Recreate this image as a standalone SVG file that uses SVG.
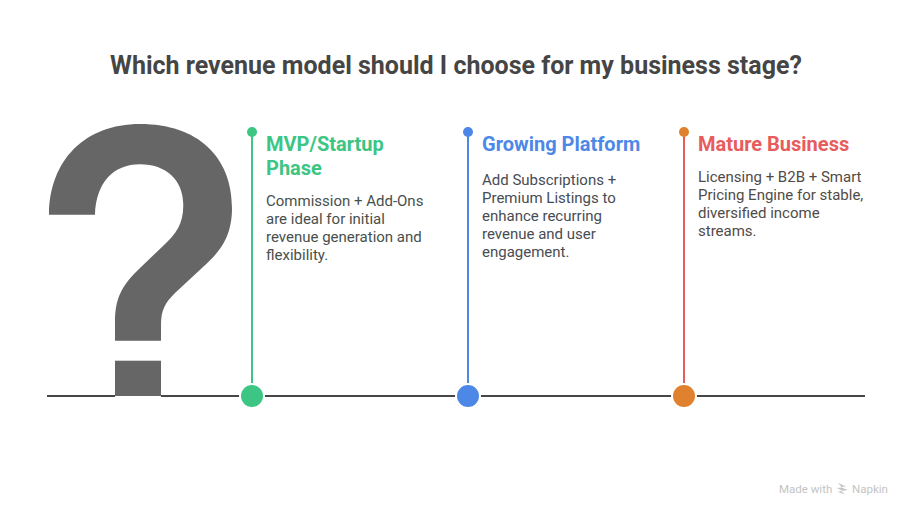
<svg xmlns="http://www.w3.org/2000/svg" width="912" height="516" viewBox="0 0 912 516">
<style>
text{font-family:Roboto,"Liberation Sans",sans-serif}
.title{font-size:25px;font-weight:700;fill:#454545}
.h{font-size:20px;font-weight:700}
.b{font-size:15px}
.stem{stroke-width:2;fill:none}
.base{stroke:#464646;stroke-width:2;fill:none}
.dot{stroke:#fff;stroke-width:2}
.green{fill:#3cc583}.blue{fill:#4e88e7}.red{fill:#e75c5c}.orange{fill:#e0812f}
.bg{fill:#48504c}.bb{fill:#484c54}.bo{fill:#514b47}
</style>
<rect width="912" height="516" fill="#fff"/>
<text id="title" class="title" x="456" y="74" text-anchor="middle">Which revenue model should I choose for my business stage?</text>
<g id="question-mark" fill="#666">
<path d="M49 214.700C49.500 160 85 124 140 124C198 124 232 157 232 208C232 240 217 254 203 267L175 293C165 303 161 310 161 325V340.700H115V322C115 298 122 285 140 268L163 246C176 234 183.300 224 183.300 205C183.300 180 166 164.300 140 164.300C113 164.300 96 183 95 214.700Z"/>
<rect x="115" y="360.700" width="46" height="35.300"/>
</g>
<g id="connectors">
<line class="base" x1="47" y1="396" x2="115" y2="396"/>
<line class="base" x1="161" y1="396" x2="865" y2="396"/>
<line class="stem" x1="252" y1="132" x2="252" y2="396" stroke="#3cc583"/>
<line class="stem" x1="468" y1="132" x2="468" y2="396" stroke="#4e88e7"/>
<line class="stem" x1="684" y1="132" x2="684" y2="396" stroke="#e75c5c"/>
</g>
<g id="node-mvp">
<circle class="green" cx="252" cy="132" r="5"/><circle class="green dot" cx="252" cy="396" r="12"/>
<text class="h green" x="266" y="151">MVP/Startup</text><text class="h green" x="266" y="175">Phase</text>
<text class="b bg" x="266" y="206">Commission + Add-Ons</text><text class="b bg" x="266" y="224">are ideal for initial</text><text class="b bg" x="266" y="242">revenue generation and</text><text class="b bg" x="266" y="260">flexibility.</text>
</g>
<g id="node-growing">
<circle class="blue" cx="468" cy="132" r="5"/><circle class="blue dot" cx="468" cy="396" r="12"/>
<text class="h blue" x="482" y="151">Growing Platform</text>
<text class="b bb" x="482" y="185">Add Subscriptions +</text><text class="b bb" x="482" y="203">Premium Listings to</text><text class="b bb" x="482" y="221">enhance recurring</text><text class="b bb" x="482" y="239">revenue and user</text><text class="b bb" x="482" y="257">engagement.</text>
</g>
<g id="node-mature">
<circle class="orange" cx="684" cy="132" r="5"/><circle class="orange dot" cx="684" cy="396" r="12"/>
<text class="h red" x="698" y="151">Mature Business</text>
<text class="b bo" x="698" y="182">Licensing + B2B + Smart</text><text class="b bo" x="698" y="200">Pricing Engine for stable,</text><text class="b bo" x="698" y="218">diversified income</text><text class="b bo" x="698" y="236">streams.</text>
</g>
<g id="watermark" fill="#c4c4c4">
<text x="779" y="493" style="font-size:11.500px">Made with</text>
<path d="M838 483l8 3.500-6 .5 8 3-7 1 4 3.500-7-2.500 4-1.500-5-2.500 5-.5z"/>
<text x="852" y="493" style="font-size:11.500px">Napkin</text>
</g>
</svg>
